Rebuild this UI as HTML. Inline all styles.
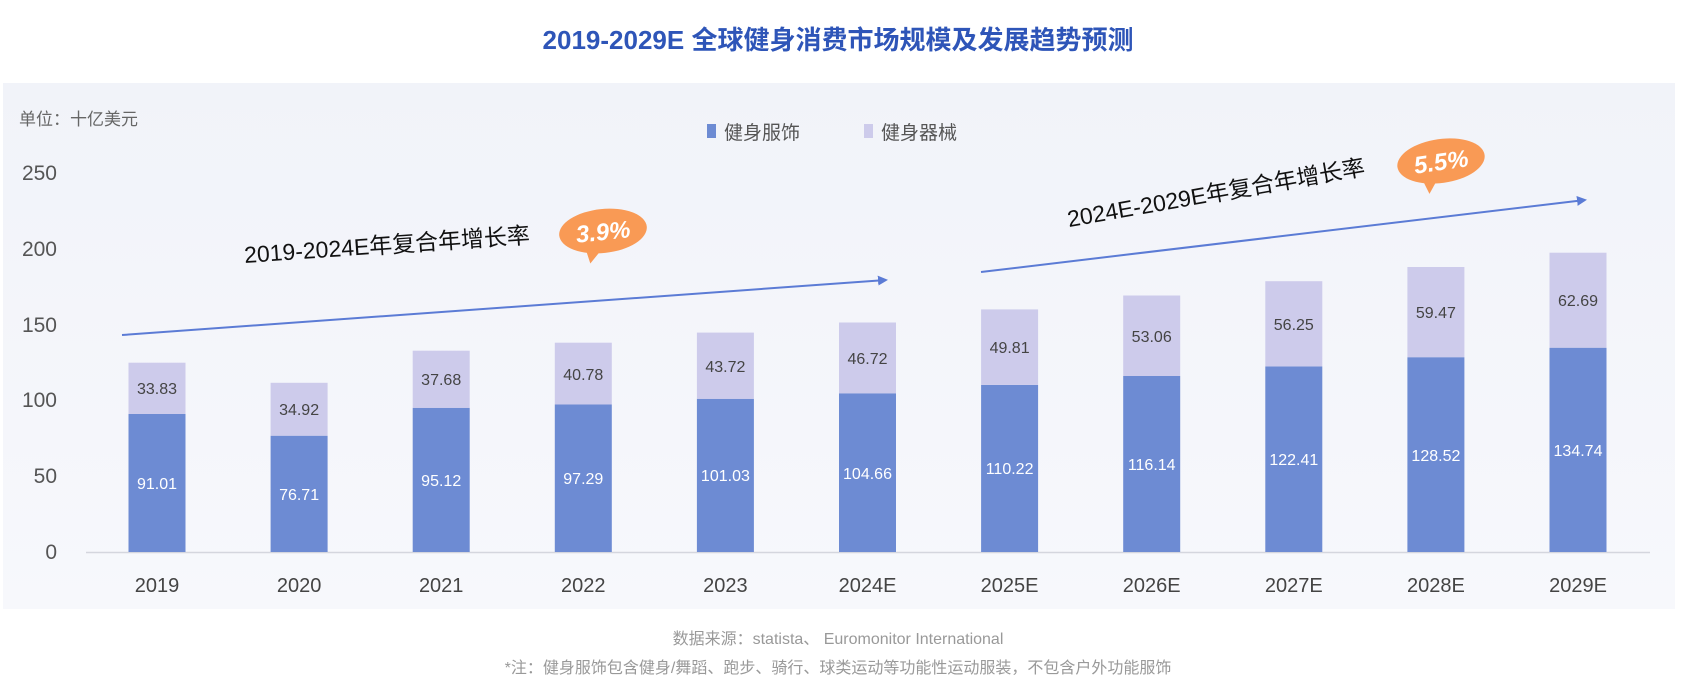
<!DOCTYPE html>
<html><head><meta charset="utf-8"><style>
html,body{margin:0;padding:0;background:#fff;}
svg{display:block;}
text{font-family:"Liberation Sans","Noto Sans CJK SC",sans-serif;}
</style></head><body>
<svg width="1684" height="688" viewBox="0 0 1684 688" xmlns="http://www.w3.org/2000/svg">
<defs>
<linearGradient id="bg" x1="0" y1="0" x2="0" y2="1"><stop offset="0" stop-color="#f1f3f9"/><stop offset="1" stop-color="#f7f8fc"/></linearGradient>
<marker id="ar" markerWidth="10" markerHeight="10" refX="8" refY="5" orient="auto" markerUnits="userSpaceOnUse"><path d="M0,0 L10,5 L0,10 Z" fill="#5b7bd5"/></marker>
</defs>
<rect width="1684" height="688" fill="#fff"/>
<rect x="3" y="83" width="1672" height="526" fill="url(#bg)"/>
<text x="838" y="49" text-anchor="middle" font-size="26" font-weight="bold" fill="#2e55b8">2019-2029E 全球健身消费市场规模及发展趋势预测</text>
<text x="19" y="125" font-size="17" fill="#666">单位：十亿美元</text>
<rect x="707" y="124" width="9" height="14" fill="#6d8bd3"/>
<text x="724" y="139" font-size="19" fill="#555">健身服饰</text>
<rect x="864" y="124" width="9" height="14" fill="#cdcbeb"/>
<text x="881" y="139" font-size="19" fill="#555">健身器械</text>
<g font-size="21" fill="#555" text-anchor="end">
<text x="57" y="180">250</text><text x="57" y="256">200</text><text x="57" y="332">150</text><text x="57" y="407">100</text><text x="57" y="483">50</text><text x="57" y="559">0</text>
</g>
<line x1="86" y1="552.5" x2="1650" y2="552.5" stroke="#d4d6de" stroke-width="1.5"/>
<g fill="#6d8bd3">
<rect x="128.5" y="414.0" width="57" height="138.0"/>
<rect x="270.6" y="435.7" width="57" height="116.3"/>
<rect x="412.7" y="407.8" width="57" height="144.2"/>
<rect x="554.8" y="404.5" width="57" height="147.5"/>
<rect x="696.9" y="398.8" width="57" height="153.2"/>
<rect x="839.0" y="393.3" width="57" height="158.7"/>
<rect x="981.1" y="384.9" width="57" height="167.1"/>
<rect x="1123.2" y="376.0" width="57" height="176.0"/>
<rect x="1265.3" y="366.4" width="57" height="185.6"/>
<rect x="1407.4" y="357.2" width="57" height="194.8"/>
<rect x="1549.5" y="347.7" width="57" height="204.3"/>
</g>
<g fill="#cdcbeb">
<rect x="128.5" y="362.7" width="57" height="51.3"/>
<rect x="270.6" y="382.8" width="57" height="52.9"/>
<rect x="412.7" y="350.7" width="57" height="57.1"/>
<rect x="554.8" y="342.7" width="57" height="61.8"/>
<rect x="696.9" y="332.6" width="57" height="66.2"/>
<rect x="839.0" y="322.5" width="57" height="70.8"/>
<rect x="981.1" y="309.4" width="57" height="75.5"/>
<rect x="1123.2" y="295.5" width="57" height="80.5"/>
<rect x="1265.3" y="281.2" width="57" height="85.2"/>
<rect x="1407.4" y="267.0" width="57" height="90.2"/>
<rect x="1549.5" y="252.7" width="57" height="95.0"/>
</g>
<g font-size="16" text-anchor="middle" fill="#fff">
<text x="157" y="489">91.01</text><text x="299.1" y="500">76.71</text><text x="441.2" y="486">95.12</text><text x="583.3" y="484">97.29</text><text x="725.4" y="481">101.03</text><text x="867.5" y="479">104.66</text><text x="1009.6" y="474">110.22</text><text x="1151.7" y="470">116.14</text><text x="1293.8" y="465">122.41</text><text x="1435.9" y="461">128.52</text><text x="1578" y="456">134.74</text>
</g>
<g font-size="16" text-anchor="middle" fill="#444">
<text x="157" y="394">33.83</text><text x="299.1" y="415">34.92</text><text x="441.2" y="385">37.68</text><text x="583.3" y="380">40.78</text><text x="725.4" y="372">43.72</text><text x="867.5" y="364">46.72</text><text x="1009.6" y="353">49.81</text><text x="1151.7" y="342">53.06</text><text x="1293.8" y="330">56.25</text><text x="1435.9" y="318">59.47</text><text x="1578" y="306">62.69</text>
</g>
<g font-size="20" text-anchor="middle" fill="#444">
<text x="157" y="592">2019</text><text x="299.1" y="592">2020</text><text x="441.2" y="592">2021</text><text x="583.3" y="592">2022</text><text x="725.4" y="592">2023</text><text x="867.5" y="592">2024E</text><text x="1009.6" y="592">2025E</text><text x="1151.7" y="592">2026E</text><text x="1293.8" y="592">2027E</text><text x="1435.9" y="592">2028E</text><text x="1578" y="592">2029E</text>
</g>
<line x1="122" y1="335" x2="886" y2="280" stroke="#5b7bd5" stroke-width="2" marker-end="url(#ar)"/>
<line x1="981" y1="272" x2="1585" y2="200" stroke="#5b7bd5" stroke-width="2" marker-end="url(#ar)"/>
<text x="387" y="253" font-size="23" fill="#111" text-anchor="middle" transform="rotate(-4 387 245)">2019-2024E年复合年增长率</text>
<text x="1216" y="201" font-size="23" fill="#111" text-anchor="middle" transform="rotate(-10 1216 193)">2024E-2029E年复合年增长率</text>
<g transform="rotate(-6 603 231)">
<ellipse cx="603" cy="231" rx="44" ry="22" fill="#f99a55"/>
<path d="M584,248 L587,262 L598,251 Z" fill="#f99a55"/>
<text x="603" y="240" font-size="24" font-weight="bold" font-style="italic" fill="#fff" text-anchor="middle">3.9%</text>
</g>
<g transform="rotate(-8 1441 161)">
<ellipse cx="1441" cy="161" rx="44" ry="22" fill="#f99a55"/>
<path d="M1420,177 L1425,192 L1434,180 Z" fill="#f99a55"/>
<text x="1441" y="170" font-size="24" font-weight="bold" font-style="italic" fill="#fff" text-anchor="middle">5.5%</text>
</g>
<text x="838" y="644" font-size="16" fill="#999" text-anchor="middle">数据来源：statista、 Euromonitor International</text>
<text x="838" y="673" font-size="16" fill="#999" text-anchor="middle">*注：健身服饰包含健身/舞蹈、跑步、骑行、球类运动等功能性运动服装，不包含户外功能服饰</text>
</svg>
</body></html>
